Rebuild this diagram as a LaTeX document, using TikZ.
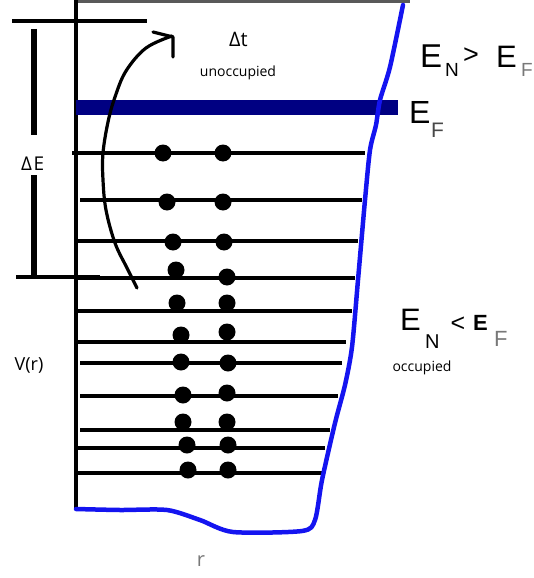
\documentclass[tikz,border=0pt]{standalone}
\usepackage{fontspec}
\setmainfont{Liberation Sans}
\newfontfamily\smallfont{Open Sans}
\definecolor{navybar}{RGB}{0,0,130}
\definecolor{curveblue}{RGB}{20,20,240}
\definecolor{subgray}{RGB}{120,120,120}
\begin{document}
\begin{tikzpicture}[x=1pt,y=-1pt,
  level/.style={line width=3.3pt,black},
  dotstyle/.style={circle,fill=black,inner sep=0pt,minimum size=17pt},
  bigE/.style={anchor=base west,inner sep=0pt,font=\fontsize{32}{32}\selectfont},
  subl/.style={anchor=base west,inner sep=0pt,font=\fontsize{19}{19}\selectfont},
  smalltxt/.style={inner sep=0pt,font=\smallfont\fontsize{14}{14}\selectfont}]
\useasboundingbox (0,0) rectangle (534,578);
% top line and axis
\draw[line width=3pt,black!65] (76,2) -- (410,2);
\draw[line width=3.3pt] (76,0) -- (76,510);
% Fermi bar
\fill[navybar] (76,100) rectangle (398,115);
% energy levels
\draw[level] (72,153) -- (365,153);
\draw[level] (80,200) -- (362,200);
\draw[level] (78,241) -- (358,241);
\draw[level] (78,278) -- (355,278);
\draw[level] (78,311) -- (352,311);
\draw[level] (78,342) -- (346,342);
\draw[level] (80,363) -- (342,363);
\draw[level] (80,396) -- (338,396);
\draw[level] (80,430) -- (330,430);
\draw[level] (76,448) -- (325,448);
\draw[level] (76,473) -- (322,473);
% blue well
\draw[curveblue,line width=4.5pt,line cap=round,line join=round]
  plot[smooth,tension=0.45] coordinates {(403,5) (390,67) (380,100) (376,125) (370,150) (365,200) (358,280) (352,347) (345,385) (335,423) (322,480) (315,520) (302,531) (233,532) (200,520) (167,510) (120,510) (76,509)};
% delta E bar
\draw[line width=3.5pt] (12,21) -- (147,21);
\draw[line width=6pt] (34,29) -- (34,135);
\draw[line width=6pt] (34,175) -- (34,277);
\draw[line width=3.5pt] (16,277) -- (100,277);
\node[inner sep=0pt,anchor=base west,font=\smallfont\fontsize{19}{19}\selectfont] (dE) at (21,170) {Δ\kern1.5pt E};
% dots
\foreach \a/\b/\c/\d [count=\i] in {163/153/223/153, 167/202/223/202, 173/242/224/242, 176/270/227/277, 177/303/227/303, 181/335/227/332, 181/362/228/363, 183/395/227/393, 183/422/227/422, 187/445/228/445, 188/470/228/470}{
  \node[dotstyle] (l\i) at (\a,\b) {};
  \node[dotstyle] (r\i) at (\c,\d) {};
}
% curved arrow
\draw[line width=3.2pt,line cap=round,line join=round]
  plot[smooth,tension=0.6] coordinates {(137,288) (127,268) (115,243) (106,210) (103,180) (103,153) (108,122) (115,97) (126,71) (146,48) (172,36)};
\draw[line width=3.2pt,line cap=round,line join=round] (153,32) -- (173,37) -- (173,57);
% labels
\node[inner sep=0pt,anchor=base west,font=\smallfont\fontsize{20}{20}\selectfont] (dt) at (229,47) {Δt};
\node[smalltxt] (unocc) at (238,73) {unoccupied};
\node[smalltxt] (occ) at (422,368) {occupied};
\node[inner sep=0pt,font=\smallfont\fontsize{18}{18}\selectfont] (vr) at (29,365) {V(r)};
\node[inner sep=0pt,text=subgray,font=\smallfont\fontsize{20}{20}\selectfont] (rr) at (201,561) {r};
% E_N > E_F
\node[bigE,font=\fontsize{33}{33}\selectfont] (e1) at (420,67) {E};
\node[subl] (n1) at (445,77) {N};
\node[inner sep=0pt,font=\fontsize{27}{27}\selectfont] (gt) at (471,56) {>};
\node[bigE,font=\fontsize{31}{31}\selectfont] (e2) at (496,67) {E};
\node[subl,text=subgray] (f1) at (521,77) {F};
% E_F
\node[bigE] (e3) at (409,123) {E};
\node[subl,text=subgray!60!black,font=\fontsize{21}{21}\selectfont] (f2) at (431,137) {F};
% E_N < E_F
\node[bigE,font=\fontsize{31}{31}\selectfont] (e4) at (400,330) {E};
\node[subl,font=\fontsize{20}{20}\selectfont] (n2) at (425,348) {N};
\node[inner sep=0pt,font=\fontsize{25}{25}\selectfont] (lt) at (458,324) {<};
\node[bigE,font=\bfseries\fontsize{22}{22}\selectfont] (e5) at (473,330) {E};
\node[subl,text=subgray,font=\fontsize{22}{22}\selectfont] (f3) at (494,346) {F};
\end{tikzpicture}
\end{document}
